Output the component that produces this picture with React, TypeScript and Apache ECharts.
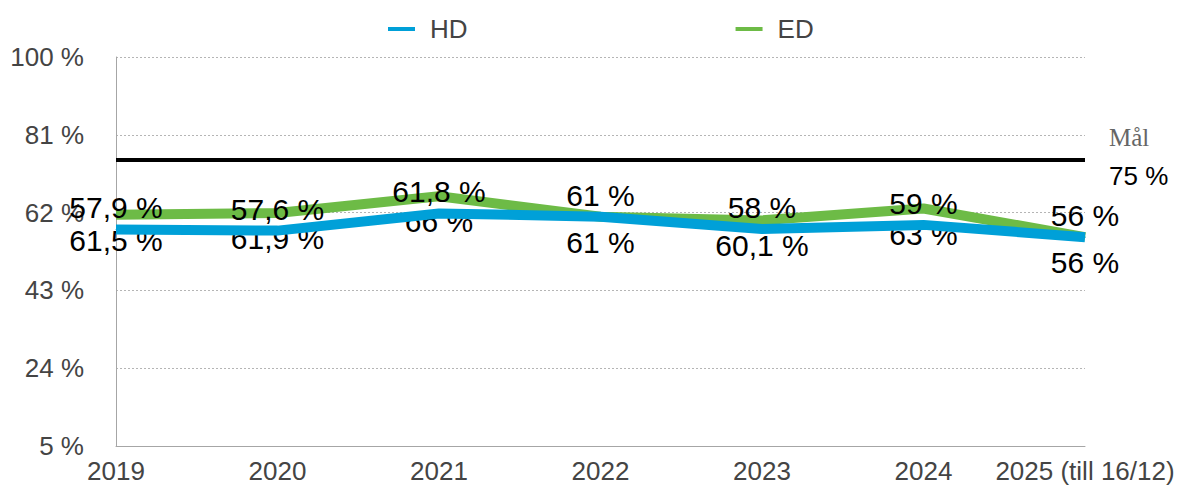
import React, { useEffect, useRef } from "react";
import * as echarts from "echarts";

const categories = ["2019", "2020", "2021", "2022", "2023", "2024", "2025 (till 16/12)"];
const hdValues = [57.9, 57.6, 61.8, 61, 58, 59, 56];
const edValues = [61.5, 61.9, 66, 61, 60.1, 63, 56];
const targetValue = 75;
const targetName = "Mål";
const yMin = 5;
const yMax = 100;
const yInterval = 19;

const fmt = (v: number) => String(v).replace(".", ",") + " %";

export default function App() {
  const ref = useRef<HTMLDivElement>(null);
  useEffect(() => {
    if (!ref.current) return;
    const chart = echarts.init(ref.current, null, { renderer: "svg" });
    const sans = "'Liberation Sans', Helvetica, Arial, sans-serif";
    chart.setOption({
      animation: false,
      legend: {
        data: ["HD", "ED"],
        left: 383,
        top: 11,
        icon: "rect",
        itemWidth: 27,
        itemHeight: 4,
        itemGap: 268,
        textStyle: { fontSize: 26, color: "#444", fontFamily: sans, padding: [0, 0, 0, 10] },
      },
      grid: { left: 116, right: 94, top: 57, bottom: 40 },
      xAxis: {
        type: "category",
        data: categories,
        boundaryGap: false,
        axisLine: { lineStyle: { color: "#a6a6a6", width: 1 } },
        axisTick: { show: false },
        axisLabel: { interval: 0, fontSize: 26, color: "#444", fontFamily: sans, margin: 12 },
        splitLine: { show: false },
      },
      yAxis: {
        type: "value",
        min: yMin,
        max: yMax,
        interval: yInterval,
        axisLine: { show: true, lineStyle: { color: "#a6a6a6", width: 1 } },
        axisTick: { show: false },
        axisLabel: { fontSize: 26, color: "#444", fontFamily: sans, margin: 32, formatter: "{value} %" },
        splitLine: { show: true, lineStyle: { color: "#b5b5b5", type: [2, 2], width: 1 } },
      },
      series: [
        {
          name: "ED",
          type: "line",
          data: edValues,
          z: 2,
          symbol: "circle",
          symbolSize: 1,
          itemStyle: { color: "#6dbb46" },
          lineStyle: { color: "#6dbb46", width: 10 },
          label: {
            show: true,
            position: "bottom",
            distance: 10,
            fontSize: 30,
            color: "#000",
            fontFamily: sans,
            formatter: (p: any) => fmt(p.value),
          },
          markLine: {
            silent: true,
            symbol: ["none", "none"],
            lineStyle: { color: "#000", width: 4, type: "solid" },
            data: [{ yAxis: targetValue }],
            label: {
              show: true,
              position: "end",
              distance: 24,
              formatter: () => `{a|${targetName}}\n{b|${fmt(targetValue)}}`,
              rich: {
                a: { fontFamily: "'Liberation Serif', 'DejaVu Serif', serif", fontSize: 25, color: "#666", lineHeight: 34, align: "left" },
                b: { fontFamily: sans, fontSize: 26, color: "#000", lineHeight: 44, align: "left" },
              },
            },
          },
        },
        {
          name: "HD",
          type: "line",
          data: hdValues,
          z: 3,
          symbol: "circle",
          symbolSize: 1,
          itemStyle: { color: "#00a0d8" },
          lineStyle: { color: "#00a0d8", width: 10 },
          label: {
            show: true,
            position: "top",
            distance: 6,
            fontSize: 30,
            color: "#000",
            fontFamily: sans,
            formatter: (p: any) => fmt(p.value),
          },
        },
      ],
    });
    return () => chart.dispose();
  }, []);
  return <div ref={ref} style={{ width: 1179, height: 486, position: "absolute", left: 0, top: 0 }} />;
}
